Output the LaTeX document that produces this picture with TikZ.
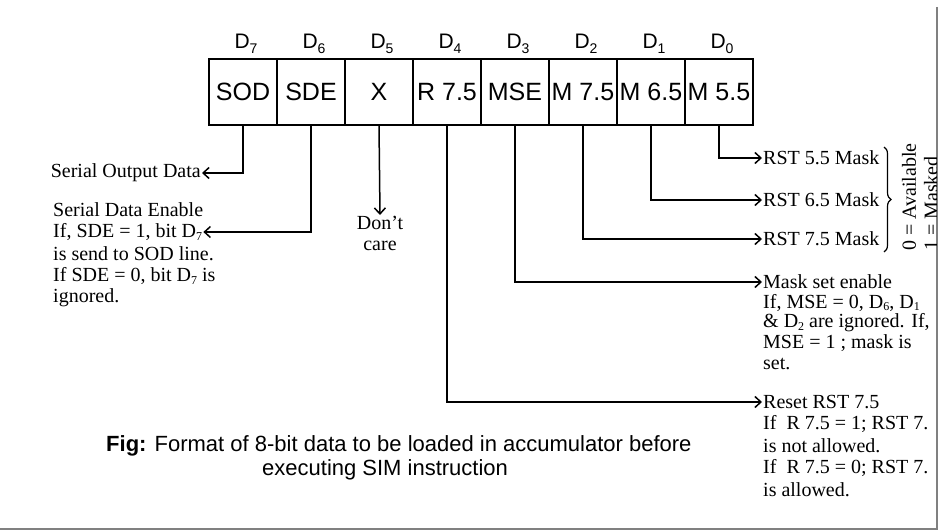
\documentclass[tikz,border=0pt]{standalone}
\usepackage{fontspec}
\setmainfont{Liberation Serif}
\setsansfont{Liberation Sans}
\usetikzlibrary{arrows.meta,decorations.pathreplacing}
\newcommand\dsub[1]{\raisebox{-0.3ex}{\fontsize{12}{12}\selectfont #1}}
\newcommand\bsub[1]{\raisebox{-0.45ex}{\fontsize{14}{14}\selectfont #1}}
\begin{document}
\begin{tikzpicture}[x=1pt,y=-1pt,
  cell/.style={draw, line width=1.6pt, minimum width=68pt, minimum height=66pt, inner sep=0pt,
    font=\sffamily\fontsize{25}{30}\selectfont},
  dlab/.style={font=\sffamily\fontsize{21}{24}\selectfont, inner sep=0pt},
  conn/.style={line width=1.5pt, -{Straight Barb[length=6pt,width=11pt,line width=1.5pt]}},
  txt/.style={font=\fontsize{20}{21}\selectfont, inner sep=1pt, anchor=west},
  captxt/.style={font=\sffamily\fontsize{22}{24}\selectfont, inner sep=0pt, anchor=west},
  vtxt/.style={font=\fontsize{20}{21}\selectfont, inner sep=0pt, rotate=90, anchor=west},
]
\useasboundingbox (0,0) rectangle (940,532);
\draw[gray, line width=2.5pt] (937,7) -- (937,529) -- (0,529);

% register cells
\node[cell] (c7) at (243,92) {SOD};
\node[cell] (c6) at (311,92) {SDE};
\node[cell] (c5) at (379,92) {X};
\node[cell] (c4) at (447,92) {R 7.5};
\node[cell] (c3) at (515,92) {MSE};
\node[cell] (c2) at (583,92) {M 7.5};
\node[cell] (c1) at (651,92) {M 6.5};
\node[cell] (c0) at (719,92) {M 5.5};

% bit labels
\node[dlab] (d7) at (246,44) {D\bsub{7}};
\node[dlab] (d6) at (314,44) {D\bsub{6}};
\node[dlab] (d5) at (382,44) {D\bsub{5}};
\node[dlab] (d4) at (450,44) {D\bsub{4}};
\node[dlab] (d3) at (518,44) {D\bsub{3}};
\node[dlab] (d2) at (586,44) {D\bsub{2}};
\node[dlab] (d1) at (654,44) {D\bsub{1}};
\node[dlab] (d0) at (722,44) {D\bsub{0}};

% left side
\node[txt, anchor=east] (sod) at (202,173) {Serial Output Data};
\node[txt] (sde1) at (52,210) {Serial Data Enable};
\node[txt] (sde2) at (52,232) {If, SDE = 1, bit D\dsub{7}};
\node[txt] (sde3) at (52,254) {is send to SOD line.};
\node[txt] (sde4) at (52,276) {If SDE = 0, bit D\dsub{7} is};
\node[txt] (sde5) at (52,298) {ignored.};
\node[txt, anchor=north, align=center] (dc) at (380,215) {Don't\\care};

\draw[conn] (c7.south) |- (sod.east);
\draw[conn] (c6.south) |- (sde2.east);
\draw[conn] (c5.south) -- (dc.north);

% right side: masks
\node[txt] (r55) at (762,158) {RST 5.5 Mask};
\node[txt] (r65) at (762,200) {RST 6.5 Mask};
\node[txt] (r75) at (762,239) {RST 7.5 Mask};
\draw[conn] (c0.south) |- (r55.west);
\draw[conn] (c1.south) |- (r65.west);
\draw[conn] (c2.south) |- (r75.west);

\draw[line width=1.2pt, decorate, decoration={brace, amplitude=7pt}] (884,147) -- (884,252);
\node[vtxt] (avail) at (909,251) {0 = Available};
\begin{scope}
  \clip (0,0) rectangle (936,532);
  \node[vtxt] (masked) at (931,251) {1 = Masked};
\end{scope}

% mask set enable
\node[txt] (mse1) at (762,282) {Mask set enable};
\node[txt] (mse2) at (762,302.5) {If, MSE = 0, D\dsub{6}, D\dsub{1}};
\node[txt] (mse3) at (762,323) {\& D\dsub{2} are ignored. If,};
\node[txt] (mse4) at (762,343.5) {MSE = 1 ; mask is};
\node[txt] (mse5) at (762,364) {set.};
\draw[conn] (c3.south) |- (mse1.west);

% reset
\node[txt] (rs1) at (762,402) {Reset RST 7.5};
\node[txt] (rs2) at (762,424) {If\ \ R 7.5 = 1; RST 7.};
\node[txt] (rs3) at (762,446) {is not allowed.};
\node[txt] (rs4) at (762,468) {If\ \ R 7.5 = 0; RST 7.};
\node[txt] (rs5) at (762,490) {is allowed.};
\draw[conn] (c4.south) |- (rs1.west);

% caption
\node[captxt] (cap1) at (106,446) {\textbf{Fig:} Format of 8-bit data to be loaded in accumulator before};
\node[captxt] (cap2) at (262,470) {executing SIM instruction};
\end{tikzpicture}
\end{document}
